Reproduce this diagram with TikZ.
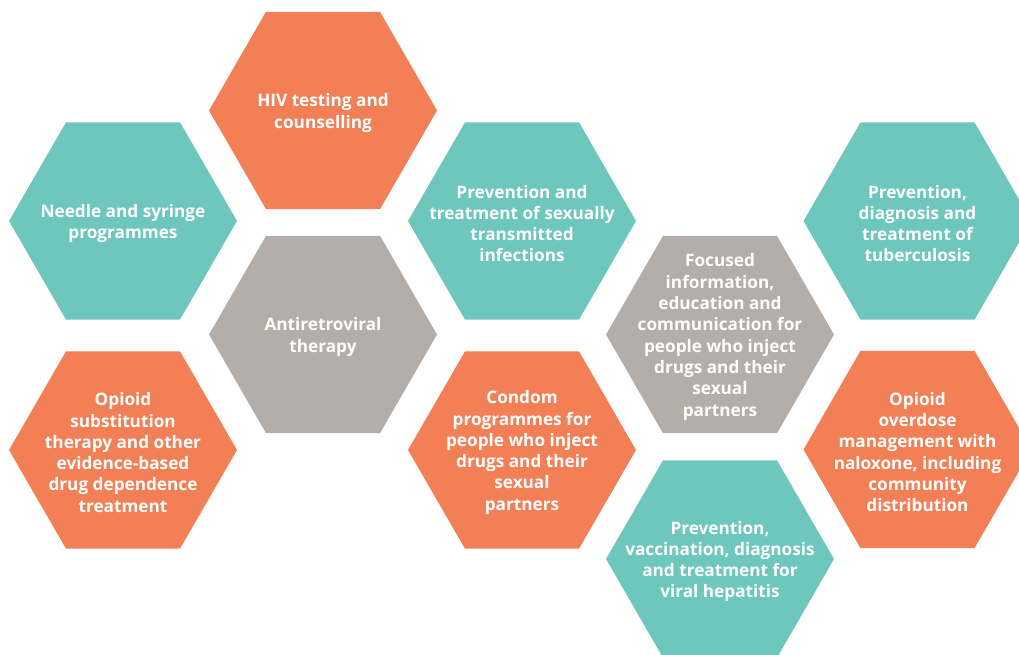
\documentclass[tikz,border=0pt]{standalone}
\usepackage{fontspec}
\setmainfont{Open Sans}
\definecolor{hexorange}{HTML}{F37F56}
\definecolor{hexteal}{HTML}{6EC7BD}
\definecolor{hexgray}{HTML}{B5ADA8}
\tikzset{
  lbl/.style={text=white, align=center, inner sep=0pt, yshift=-2.5pt, font=\bfseries\fontsize{17.2}{21.3}\selectfont},
}
\newcommand\hexcell[5]{%
  \fill[#4] (#2,#3) +(0:114) -- +(60:114) -- +(120:114) -- +(180:114) -- +(240:114) -- +(300:114) -- cycle;
  \node[lbl] (#1) at (#2,#3) {#5};}
\begin{document}
\begin{tikzpicture}[x=1pt,y=-1pt]
\useasboundingbox (0,0) rectangle (1019,655);
\clip (0,0) rectangle (1019,655);
\hexcell{hiv}{323}{110.5}{hexorange}{HIV testing and\\counselling}
\hexcell{nsp}{123}{221}{hexteal}{Needle and syringe\\programmes}
\hexcell{art}{323}{334.5}{hexgray}{Antiretroviral\\therapy}
\hexcell{ost}{123}{450}{hexorange}{Opioid\\substitution\\therapy and other\\evidence-based\\drug dependence\\treatment}
\hexcell{sti}{522}{221}{hexteal}{Prevention and\\treatment of sexually\\transmitted\\infections}
\hexcell{cdm}{522}{450}{hexorange}{Condom\\programmes for\\people who inject\\drugs and their\\sexual\\partners}
\hexcell{iec}{720}{334.5}{hexgray}{Focused\\information,\\education and\\communication for\\people who inject\\drugs and their\\sexual\\partners}
\hexcell{hep}{720}{559}{hexteal}{Prevention,\\vaccination, diagnosis\\and treatment for\\viral hepatitis}
\hexcell{tb}{917.5}{221}{hexteal}{Prevention,\\diagnosis and\\treatment of\\tuberculosis}
\hexcell{od}{917.5}{449.5}{hexorange}{Opioid\\overdose\\management with\\naloxone, including\\community\\distribution}
\end{tikzpicture}
\end{document}
